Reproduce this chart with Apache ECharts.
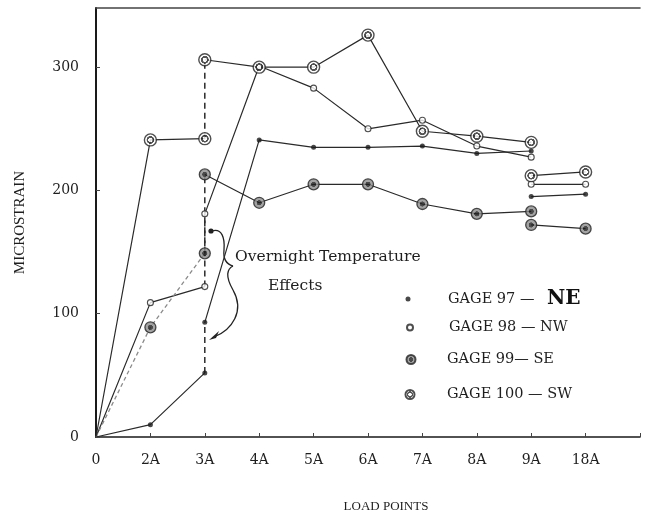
<!DOCTYPE html>
<html>
<head>
<meta charset="utf-8">
<script src="https://cdn.jsdelivr.net/npm/echarts@6/dist/echarts.min.js"></script>
<style>
  html, body { margin: 0; padding: 0; background: #fff; }
  #chart { width: 646px; height: 518px; }
</style>
</head>
<body>
<div id="chart"></div>
<script>
const categories = ['0', '2A', '3A', '4A', '5A', '6A', '7A', '8A', '9A', '18A'];

// load points for each run of readings (indexes into categories)
const beforeIdx = [0, 1, 2];            // 0, 2A, 3A (first reading)
const afterIdx = [2, 3, 4, 5, 6, 7, 8]; // 3A (next morning), 4A .. 9A
const repeatIdx = [8, 9];               // 9A again, 18A

const gage97Before = [0, 10, 52];
const gage97After = [93, 241, 235, 235, 236, 230, 232];
const gage97Repeat = [195, 197];

const gage98Before = [0, 109, 122];
const gage98After = [181, 301, 283, 250, 257, 236, 227];
const gage98Repeat = [205, 205];

const gage99Before = [0, 89, 149];
const gage99After = [213, 190, 205, 205, 189, 181, 183];
const gage99Repeat = [172, 169];

const gage100Before = [0, 241, 242];
const gage100After = [306, 300, 300, 326, 248, 244, 239];
const gage100Repeat = [212, 215];

const gageNames = ['GAGE 97', 'GAGE 98', 'GAGE 99', 'GAGE 100'];
const gageLabels = ['GAGE 97 \u2014 {gap|}{ne|NE}', 'GAGE 98 \u2014 NW', 'GAGE 99\u2014 SE', 'GAGE 100 \u2014 SW'];

const serif = 'DejaVu Serif';
const lineColor = '#2a2a2a';
const textColor = '#1e1e1e';

const pts = (idx, vals) => vals.map((v, i) => [idx[i], v]);

const markerStyles = [
  { size: 5, itemStyle: { color: '#1a1a1a' } },
  { size: 6, itemStyle: { color: '#fff', borderColor: '#222', borderWidth: 1.1 } },
  { size: 11, itemStyle: {
      color: { type: 'radial', x: 0.5, y: 0.5, r: 0.5, colorStops: [
        { offset: 0, color: '#1e1e1e' }, { offset: 0.38, color: '#1e1e1e' },
        { offset: 0.45, color: '#8c8c8c' }, { offset: 1, color: '#8c8c8c' }] },
      borderColor: '#222', borderWidth: 1.3 } },
  { size: 12, itemStyle: {
      color: { type: 'radial', x: 0.5, y: 0.5, r: 0.5, colorStops: [
        { offset: 0, color: '#fff' }, { offset: 0.3, color: '#fff' },
        { offset: 0.34, color: '#2a2a2a' }, { offset: 0.55, color: '#2a2a2a' },
        { offset: 0.6, color: '#fff' }, { offset: 1, color: '#fff' }] },
      borderColor: '#222', borderWidth: 1.4 } }
];

const gageData = [
  [gage97Before, gage97After, gage97Repeat],
  [gage98Before, gage98After, gage98Repeat],
  [gage99Before, gage99After, gage99Repeat],
  [gage100Before, gage100After, gage100Repeat]
];

const series = [];
// markers first so the legend takes its icon style from them; no marker at the origin
gageData.forEach((d, g) => {
  series.push({
    name: gageNames[g],
    type: 'scatter',
    z: 5,
    symbol: 'circle',
    symbolSize: markerStyles[g].size,
    itemStyle: markerStyles[g].itemStyle,
    data: pts(beforeIdx, d[0]).slice(1).concat(pts(afterIdx, d[1]), pts(repeatIdx, d[2]))
  });
});
gageData.forEach((d, g) => {
  const base = { name: gageNames[g], type: 'line', symbol: 'none', z: 2, silent: true };
  const solid = { color: lineColor, width: 1.2 };
  series.push(Object.assign({}, base, {
    data: pts(beforeIdx, d[0]),
    lineStyle: g === 2 ? { color: '#8a8a8a', width: 1.3, type: [4, 3] } : solid
  }));
  series.push(Object.assign({}, base, {
    data: [[beforeIdx[2], d[0][2]], [afterIdx[0], d[1][0]]],
    lineStyle: { color: lineColor, width: 1.5, type: [6, 4] }
  }));
  series.push(Object.assign({}, base, { data: pts(afterIdx, d[1]), lineStyle: solid }));
  series.push(Object.assign({}, base, { data: pts(repeatIdx, d[2]), lineStyle: solid }));
});

const legendRows = [
  { cy: 302, cx: 408, size: 5, textX: 448 },
  { cy: 329, cx: 409, size: 6, textX: 448 },
  { cy: 361, cx: 410, size: 9, textX: 446 },
  { cy: 396, cx: 409, size: 9, textX: 446 }
];

const braceStyle = { fill: null, stroke: '#222', lineWidth: 1.3 };

const chart = echarts.init(document.getElementById('chart'), null, { renderer: 'canvas' });
chart.setOption({
  backgroundColor: '#fff',
  animation: false,
  grid: { left: 96, right: 6, top: 8, bottom: 81 },
  legend: legendRows.map((r, i) => ({
    data: [{ name: gageNames[i], icon: 'circle' }],
    selectedMode: false,
    orient: 'vertical',
    left: r.cx - r.size / 2,
    top: r.cy - (i === 0 ? 13 : 9),
    itemWidth: r.size,
    itemHeight: r.size,
    padding: 0,
    formatter: () => gageLabels[i],
    textStyle: {
      fontFamily: serif, fontSize: 14.5, color: textColor,
      padding: [0, 0, 0, r.textX - (r.cx + r.size / 2) - 5],
      rich: {
        gap: { width: 8 },
        ne: { fontFamily: serif, fontSize: 20, fontWeight: 'bold', color: '#111' }
      }
    }
  })),
  xAxis: [
    {
      type: 'value', min: 0, max: 10, interval: 1,
      axisLine: { onZero: false, lineStyle: { color: '#1a1a1a', width: 1.6 } },
      axisTick: { inside: true, length: 4, lineStyle: { color: '#444' } },
      splitLine: { show: false },
      axisLabel: {
        formatter: v => categories[v] || '',
        margin: 16, fontFamily: serif, fontSize: 14, color: textColor
      },
      name: 'LOAD POINTS', nameLocation: 'middle', nameGap: 63,
      nameTextStyle: { fontFamily: 'Liberation Serif', fontSize: 13, color: textColor, padding: [0, 0, 0, 36] }
    },
    {
      type: 'value', min: 0, max: 10, position: 'top',
      axisLine: { onZero: false, lineStyle: { color: '#444', width: 1.6 } },
      axisTick: { show: false }, axisLabel: { show: false }, splitLine: { show: false }
    }
  ],
  yAxis: {
    type: 'value', min: 0, max: 348, interval: 100,
    axisLine: { show: true, lineStyle: { color: '#1a1a1a', width: 2 } },
    axisTick: { inside: true, length: 4, lineStyle: { color: '#444' } },
    splitLine: { show: false },
    axisLabel: { margin: 17, showMaxLabel: false, fontFamily: serif, fontSize: 14, color: textColor },
    name: 'MICROSTRAIN', nameLocation: 'middle', nameGap: 68,
    nameTextStyle: { fontFamily: 'Liberation Serif', fontSize: 15, color: textColor }
  },
  graphic: [
    { type: 'text', left: 235, top: 249,
      style: { text: 'Overnight Temperature', font: '15.5px "DejaVu Serif"', fill: textColor } },
    { type: 'text', left: 268, top: 278,
      style: { text: 'Effects', font: '15.5px "DejaVu Serif"', fill: textColor } },
    { type: 'bezierCurve', silent: true, style: braceStyle,
      shape: { x1: 212, y1: 231, cpx1: 222, cpy1: 228, cpx2: 225, cpy2: 238, x2: 224, y2: 250 } },
    { type: 'bezierCurve', silent: true, style: braceStyle,
      shape: { x1: 224, y1: 250, cpx1: 223, cpy1: 259, cpx2: 226, cpy2: 264, x2: 233, y2: 266 } },
    { type: 'bezierCurve', silent: true, style: braceStyle,
      shape: { x1: 233, y1: 266, cpx1: 227, cpy1: 269, cpx2: 225, cpy2: 276, x2: 233, y2: 290 } },
    { type: 'bezierCurve', silent: true, style: braceStyle,
      shape: { x1: 233, y1: 290, cpx1: 245, cpy1: 311, cpx2: 232, cpy2: 330, x2: 214, y2: 337 } },
    { type: 'circle', silent: true, shape: { cx: 211, cy: 231, r: 2.6 }, style: { fill: '#222' } },
    { type: 'polygon', silent: true, shape: { points: [[209, 340], [219, 331], [216, 338]] }, style: { fill: '#222' } }
  ],
  series: series
});
</script>
</body>
</html>
